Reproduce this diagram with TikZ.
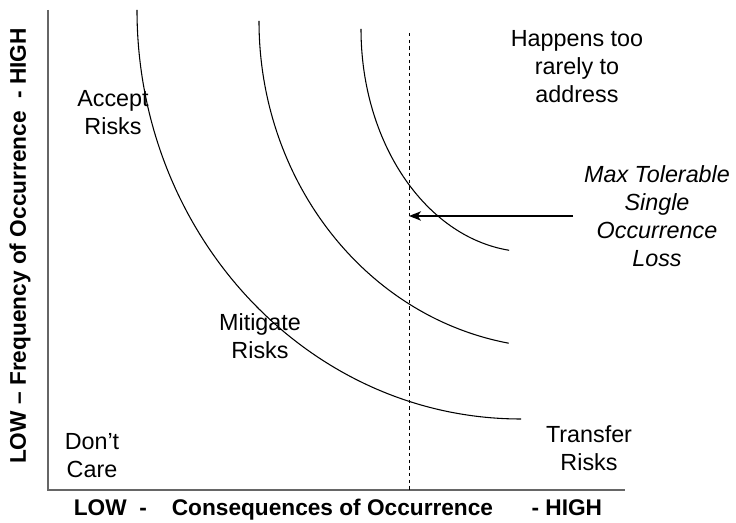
\documentclass[tikz,border=0pt]{standalone}
\usepackage{fontspec}
\setmainfont{Liberation Sans}
\usetikzlibrary{arrows.meta}
\tikzset{
  zone/.style={align=center, font=\fontsize{17.5}{21}\selectfont},
  axislabel/.style={font=\fontsize{17}{20}\selectfont\bfseries},
  riskcurve/.style={line width=0.8pt},
}
\begin{document}
\begin{tikzpicture}[x=0.75pt, y=-0.75pt]
  \useasboundingbox (0,0) rectangle (736,523);
  \draw[black!60, line width=0.9pt] (48,10) -- (48,490) -- (625,490);
  \draw[riskcurve] (137,10) arc[start angle=180, end angle=90, x radius=384, y radius=409];
  \draw[riskcurve] (259,21) arc[start angle=180, end angle=99.8, x radius=301, y radius=327];
  \draw[riskcurve] (361,29) arc[start angle=180, end angle=97.1, x radius=169, y radius=223];
  \draw[dash pattern=on 2.5pt off 2.5pt, line width=0.6pt] (409,33) coordinate (dashtop) -- (409,490);
  \node[zone] (happens) at (577,67) {Happens too\\rarely to\\address};
  \node[zone, font=\fontsize{17.5}{21}\selectfont\itshape, inner sep=8pt] (maxloss) at (657,216) {Max Tolerable\\Single\\Occurrence\\Loss};
  \node[zone] (accept) at (113,113) {Accept\\Risks};
  \node[zone] (mitigate) at (260,336) {Mitigate\\Risks};
  \node[zone] (dontcare) at (92,456) {Don’t\\Care};
  \node[zone] (transfer) at (589,448) {Transfer\\Risks};
  \node[axislabel, rotate=90] (freq) at (20,246) {LOW – Frequency of Occurrence\ \ - HIGH};
  \node[axislabel] (conseq) at (338,510) {LOW\ \ -\hspace{1.1em}Consequences of Occurrence\hspace{1.7em}- HIGH};
  \draw[-{Stealth[length=9pt, width=7pt, inset=2.5pt]}, line width=1pt] (maxloss.west) -- (maxloss.west -| dashtop);
\end{tikzpicture}
\end{document}
